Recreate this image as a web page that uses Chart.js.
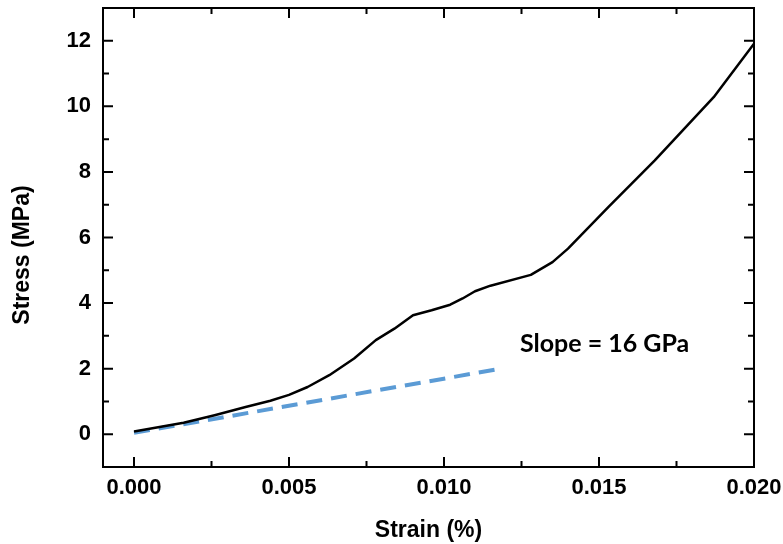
<!DOCTYPE html>
<html>
<head>
<meta charset="utf-8">
<script src="https://cdn.jsdelivr.net/npm/chart.js@4/dist/chart.umd.min.js"></script>
<style>
  html, body { margin: 0; padding: 0; background: #fff; }
  #wrap { width: 783px; height: 544px; }
</style>
</head>
<body>
<div id="wrap"><canvas id="myChart"></canvas></div>
<script>
// measured stress-strain curve
const strain = [0, 0.0016, 0.0026, 0.0036, 0.0044, 0.0050, 0.0056, 0.0063, 0.0071, 0.0078,
  0.0084, 0.0090, 0.0096, 0.0102, 0.0106, 0.0110, 0.0115, 0.0128, 0.0135, 0.0140,
  0.0153, 0.0168, 0.0187, 0.0200];
const stress = [0.08, 0.35, 0.58, 0.83, 1.02, 1.20, 1.44, 1.80, 2.31, 2.87,
  3.22, 3.63, 3.78, 3.95, 4.14, 4.36, 4.53, 4.86, 5.25, 5.66,
  6.93, 8.35, 10.28, 11.91];

// linear fit (slope line)
const fitStrain = [0, 0.0119];
const fitStress = [0.04, 2.01];

const xTicks = [0, 0.005, 0.010, 0.015, 0.020];
const yTicks = [0, 2, 4, 6, 8, 10, 12];
const xMinor = [0.0025, 0.0075, 0.0125, 0.0175];
const yMinor = [-1, 1, 3, 5, 7, 9, 11];

const slopeLabel = 'Slope = 16 GPa';
const slopeLabelAt = { x: 0.01245, y: 2.5 };

const toPts = (xs, ys) => xs.map((x, i) => ({ x: x, y: ys[i] }));

// no extra margin for overhanging tick labels
const noMargins = s => { s.paddingTop = 0; s.paddingBottom = 0; s.paddingLeft = 0; s.paddingRight = 0; };

// inward ticks on all four sides + frame + y title + annotation
const framePlugin = {
  id: 'frame',
  afterDraw(chart) {
    const { ctx, chartArea: a, scales: { x, y } } = chart;
    ctx.save();
    ctx.strokeStyle = '#000';
    ctx.lineWidth = 2;
    ctx.strokeRect(a.left, a.top, a.right - a.left, a.bottom - a.top);
    const tick = (vals, len) => {
      vals.forEach(v => {
        const px = x.getPixelForValue(v);
        ctx.beginPath();
        ctx.moveTo(px, a.bottom); ctx.lineTo(px, a.bottom - len);
        ctx.moveTo(px, a.top); ctx.lineTo(px, a.top + len);
        ctx.stroke();
      });
    };
    const tickY = (vals, len) => {
      vals.forEach(v => {
        const py = y.getPixelForValue(v);
        ctx.beginPath();
        ctx.moveTo(a.left, py); ctx.lineTo(a.left + len, py);
        ctx.moveTo(a.right, py); ctx.lineTo(a.right - len, py);
        ctx.stroke();
      });
    };
    tick(xTicks, 10);
    tick(xMinor, 6);
    tickY(yTicks, 10);
    tickY(yMinor, 6);

    // y axis title
    ctx.fillStyle = '#000';
    ctx.font = 'bold 23px "Liberation Sans", Arial, sans-serif';
    ctx.textAlign = 'center';
    ctx.textBaseline = 'middle';
    ctx.translate(23, 255);
    ctx.rotate(-Math.PI / 2);
    ctx.fillText('Stress (MPa)', 0, 0);
    ctx.restore();

    ctx.save();
    ctx.fillStyle = '#000';
    ctx.font = 'bold 25px Lato, "Open Sans", sans-serif';
    ctx.textAlign = 'left';
    ctx.textBaseline = 'alphabetic';
    ctx.fillText(slopeLabel, x.getPixelForValue(slopeLabelAt.x), y.getPixelForValue(slopeLabelAt.y));
    ctx.restore();
  }
};

const tickFont = { family: '"Liberation Sans", Arial, sans-serif', size: 22, weight: 'bold' };

new Chart(document.getElementById('myChart'), {
  type: 'scatter',
  data: {
    datasets: [{
      label: 'Stress',
      data: toPts(strain, stress),
      showLine: true,
      borderColor: '#000',
      borderWidth: 2.5,
      borderJoinStyle: 'round',
      pointRadius: 0,
      tension: 0
    }, {
      label: 'Fit',
      data: toPts(fitStrain, fitStress),
      showLine: true,
      borderColor: 'rgb(91, 155, 213)',
      borderWidth: 4,
      borderDash: [16, 9],
      pointRadius: 0
    }]
  },
  options: {
    responsive: true,
    maintainAspectRatio: false,
    animation: false,
    layout: { padding: { left: 0, right: 29, top: 8, bottom: 0 } },
    plugins: { legend: { display: false }, tooltip: { enabled: false } },
    scales: {
      x: {
        type: 'linear',
        min: -0.001,
        max: 0.020,
        afterBuildTicks: s => { s.ticks = xTicks.map(v => ({ value: v })); },
        afterFit: s => { s.height = 77; noMargins(s); },
        grid: { display: false, drawTicks: false },
        border: { display: false },
        ticks: {
          color: '#000',
          font: tickFont,
          padding: 8,
          maxRotation: 0,
          callback: v => v.toFixed(3)
        },
        title: {
          display: true,
          text: 'Strain (%)',
          color: '#000',
          font: { family: '"Liberation Sans", Arial, sans-serif', size: 23, weight: 'bold' },
          padding: { top: 0, bottom: 0 }
        }
      },
      y: {
        type: 'linear',
        min: -1,
        max: 13,
        afterBuildTicks: s => { s.ticks = yTicks.map(v => ({ value: v })); },
        afterFit: s => { s.width = 103; noMargins(s); },
        grid: { display: false, drawTicks: false },
        border: { display: false },
        ticks: {
          color: '#000',
          font: tickFont,
          padding: 12
        }
      }
    }
  },
  plugins: [framePlugin]
});
</script>
</body>
</html>
